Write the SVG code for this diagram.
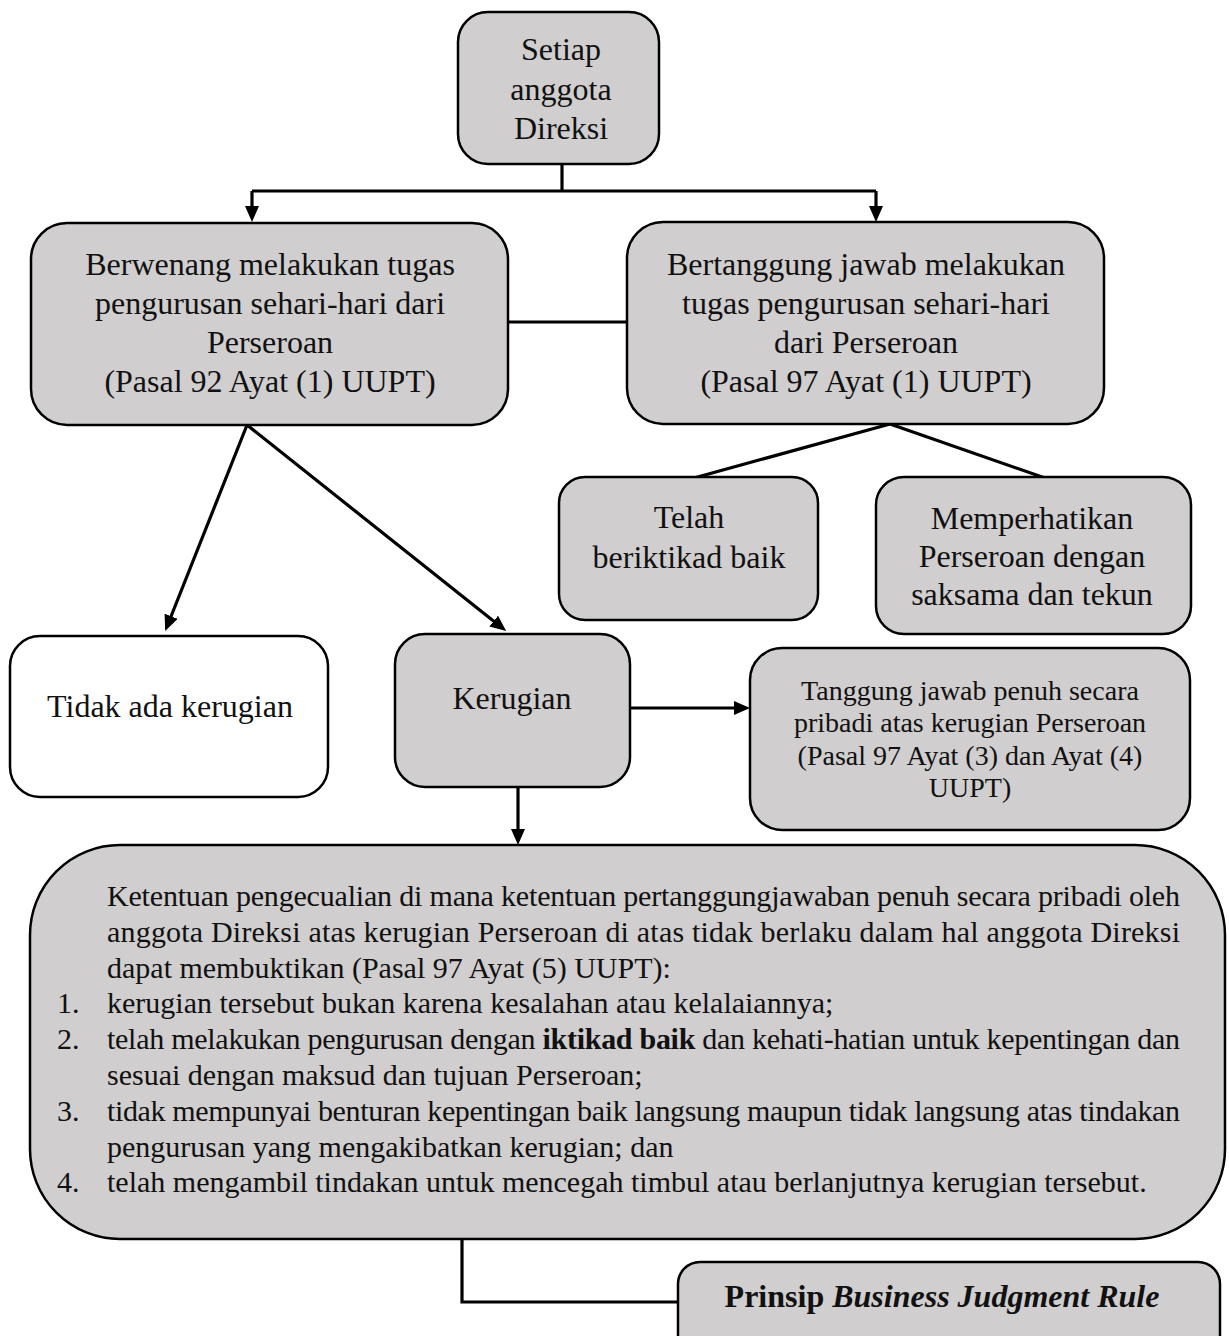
<svg xmlns="http://www.w3.org/2000/svg" width="1229" height="1336" viewBox="0 0 1229 1336">
  <style>
    .box { fill: #d0cecf; stroke: #000; stroke-width: 2.5; }
    .plain { fill: #fff; stroke: #000; stroke-width: 2.5; }
    .link { fill: none; stroke: #000; stroke-width: 3.2; }
    text { font-family: "Liberation Serif", "Times New Roman", serif; fill: #111; }
    .t32 { font-size: 32px; text-anchor: middle; }
    .t28 { font-size: 28px; text-anchor: middle; }
    .body { font-size: 30px; }
  </style>
  <defs>
    <marker id="arrow" markerUnits="userSpaceOnUse" markerWidth="16" markerHeight="14" refX="3" refY="7" orient="auto">
      <path d="M0,0 L16,7 L0,14 z" fill="#000"/>
    </marker>
  </defs>

  <g id="connectors">
    <path class="link" d="M562,164 V191"/>
    <path class="link" d="M252,191 H876"/>
    <path class="link" d="M252,191 V209" marker-end="url(#arrow)"/>
    <path class="link" d="M876,191 V209" marker-end="url(#arrow)"/>
    <path class="link" d="M508,322 H627"/>
    <path class="link" d="M890,424 L694,478"/>
    <path class="link" d="M890,424 L1045,478"/>
    <path class="link" d="M247,425 L170,619" marker-end="url(#arrow)"/>
    <path class="link" d="M247,425 L496,623" marker-end="url(#arrow)"/>
    <path class="link" d="M630,708 H737" marker-end="url(#arrow)"/>
    <path class="link" d="M518,787 V832" marker-end="url(#arrow)"/>
    <path class="link" d="M462,1240 V1302 H678"/>
  </g>

  <g id="node-direksi">
    <rect class="box" x="458" y="12" width="201" height="152" rx="30"/>
    <text class="t32" x="561" y="60">Setiap</text>
    <text class="t32" x="561" y="100">anggota</text>
    <text class="t32" x="561" y="139">Direksi</text>
  </g>

  <g id="node-berwenang">
    <rect class="box" x="31" y="223" width="477" height="202" rx="36"/>
    <text class="t32" x="270" y="275">Berwenang melakukan tugas</text>
    <text class="t32" x="270" y="314">pengurusan sehari-hari dari</text>
    <text class="t32" x="270" y="353">Perseroan</text>
    <text class="t32" x="270" y="392">(Pasal 92 Ayat (1) UUPT)</text>
  </g>

  <g id="node-bertanggung">
    <rect class="box" x="627" y="222" width="477" height="202" rx="36"/>
    <text class="t32" x="866" y="275">Bertanggung jawab melakukan</text>
    <text class="t32" x="866" y="314">tugas pengurusan sehari-hari</text>
    <text class="t32" x="866" y="353">dari Perseroan</text>
    <text class="t32" x="866" y="392">(Pasal 97 Ayat (1) UUPT)</text>
  </g>

  <g id="node-iktikad">
    <rect class="box" x="559" y="477" width="259" height="143" rx="26"/>
    <text class="t32" x="689" y="528">Telah</text>
    <text class="t32" x="689" y="568">beriktikad baik</text>
  </g>

  <g id="node-saksama">
    <rect class="box" x="876" y="477" width="315" height="157" rx="28"/>
    <text class="t32" x="1032" y="529">Memperhatikan</text>
    <text class="t32" x="1032" y="567">Perseroan dengan</text>
    <text class="t32" x="1032" y="605">saksama dan tekun</text>
  </g>

  <g id="node-tidak-rugi">
    <rect class="plain" x="10" y="636" width="318" height="161" rx="30"/>
    <text class="t32" x="170" y="717">Tidak ada kerugian</text>
  </g>

  <g id="node-kerugian">
    <rect class="box" x="395" y="634" width="235" height="153" rx="30"/>
    <text class="t32" x="512" y="709">Kerugian</text>
  </g>

  <g id="node-tanggung-jawab">
    <rect class="box" x="750" y="648" width="440" height="182" rx="32"/>
    <text class="t28" x="970" y="700">Tanggung jawab penuh secara</text>
    <text class="t28" x="970" y="732">pribadi atas kerugian Perseroan</text>
    <text class="t28" x="970" y="765">(Pasal 97 Ayat (3) dan Ayat (4)</text>
    <text class="t28" x="970" y="797">UUPT)</text>
  </g>

  <g id="node-pengecualian">
    <rect class="box" x="30" y="845" width="1195" height="394" rx="90"/>
    <g class="body">
      <text x="107" y="906" textLength="1073" lengthAdjust="spacing">Ketentuan pengecualian di mana ketentuan pertanggungjawaban penuh secara pribadi oleh</text>
      <text x="107" y="942" textLength="1073" lengthAdjust="spacing">anggota Direksi atas kerugian Perseroan di atas tidak berlaku dalam hal anggota Direksi</text>
      <text x="107" y="978">dapat membuktikan (Pasal 97 Ayat (5) UUPT):</text>
      <text x="57" y="1013">1.</text>
      <text x="107" y="1013">kerugian tersebut bukan karena kesalahan atau kelalaiannya;</text>
      <text x="57" y="1049">2.</text>
      <text x="107" y="1049" textLength="1073" lengthAdjust="spacing">telah melakukan pengurusan dengan <tspan font-weight="bold">iktikad baik</tspan> dan kehati-hatian untuk kepentingan dan</text>
      <text x="107" y="1085">sesuai dengan maksud dan tujuan Perseroan;</text>
      <text x="57" y="1121">3.</text>
      <text x="107" y="1121" textLength="1073" lengthAdjust="spacing">tidak mempunyai benturan kepentingan baik langsung maupun tidak langsung atas tindakan</text>
      <text x="107" y="1157">pengurusan yang mengakibatkan kerugian; dan</text>
      <text x="57" y="1192">4.</text>
      <text x="107" y="1192">telah mengambil tindakan untuk mencegah timbul atau berlanjutnya kerugian tersebut.</text>
    </g>
  </g>

  <g id="node-bjr">
    <rect class="box" x="678" y="1262" width="542" height="100" rx="22"/>
    <text class="t32" x="942" y="1307" font-weight="bold">Prinsip <tspan font-style="italic">Business Judgment Rule</tspan></text>
  </g>
</svg>
